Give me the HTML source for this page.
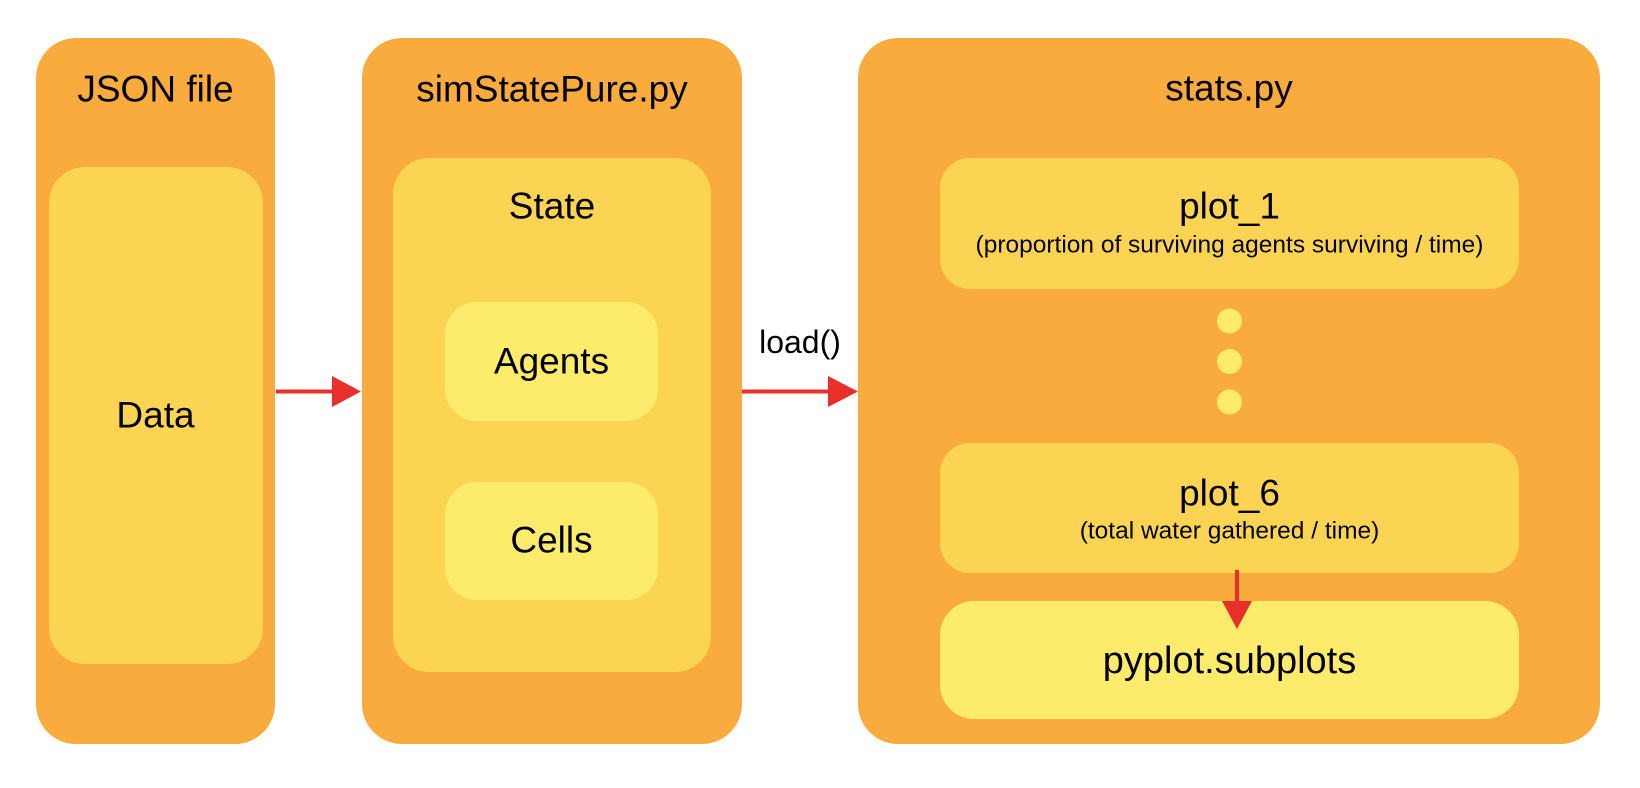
<!DOCTYPE html>
<html><head><meta charset="utf-8"><style>html,body{margin:0;padding:0;background:#fff}svg{display:block}</style></head>
<body>
<svg width="1640" height="788" viewBox="0 0 1640 788" xmlns="http://www.w3.org/2000/svg" font-family="'Liberation Sans', Arial, sans-serif" fill="#000">
<!-- outer boxes -->
<rect x="36" y="38" width="239" height="706" rx="40" fill="#F9AC3D"/>
<rect x="362" y="38" width="380" height="706" rx="40" fill="#F9AC3D"/>
<rect x="858" y="38" width="742" height="706" rx="40" fill="#F9AC3D"/>
<!-- mid boxes -->
<rect x="49" y="167" width="214" height="497" rx="36" fill="#FCD453"/>
<rect x="393" y="158" width="318" height="514" rx="36" fill="#FCD453"/>
<rect x="940" y="158" width="579" height="131" rx="30" fill="#FCD453"/>
<rect x="940" y="443" width="579" height="130" rx="30" fill="#FCD453"/>
<!-- inner boxes -->
<rect x="445" y="302" width="213" height="119" rx="32" fill="#FDEC6B"/>
<rect x="445" y="482" width="213" height="118" rx="32" fill="#FDEC6B"/>
<rect x="940" y="601" width="579" height="118" rx="34" fill="#FDEC6B"/>
<!-- dots -->
<circle cx="1229.5" cy="321" r="12.5" fill="#FDEC6B"/>
<circle cx="1229.5" cy="361.5" r="12.5" fill="#FDEC6B"/>
<circle cx="1229.5" cy="402" r="12.5" fill="#FDEC6B"/>
<!-- arrows -->
<line x1="276" y1="391.5" x2="334" y2="391.5" stroke="#E8302A" stroke-width="4"/>
<polygon points="332,376 361,391.5 332,407" fill="#E8302A"/>
<line x1="742" y1="391.5" x2="830" y2="391.5" stroke="#E8302A" stroke-width="4"/>
<polygon points="828,376 858,391.5 828,407" fill="#E8302A"/>
<line x1="1237" y1="570" x2="1237" y2="603" stroke="#E8302A" stroke-width="4"/>
<polygon points="1222,601 1252,601 1237,629" fill="#E8302A"/>
<!-- text -->
<g text-anchor="middle" dominant-baseline="central" font-size="37">
<text x="155.5" y="89">JSON file</text>
<text x="552" y="89">simStatePure.py</text>
<text x="1229" y="88">stats.py</text>
<text x="155.5" y="415">Data</text>
<text x="552" y="206">State</text>
<text x="551.5" y="361">Agents</text>
<text x="551.5" y="540">Cells</text>
<text x="1229.5" y="206">plot_1</text>
<text x="1229.5" y="493">plot_6</text>
<text x="1229.5" y="661" font-size="38">pyplot.subplots</text>
<text x="1229.5" y="245" font-size="24.5">(proportion of surviving agents surviving / time)</text>
<text x="1229.5" y="531" font-size="24.5">(total water gathered / time)</text>
<text x="800" y="342" font-size="32">load()</text>
</g>
</svg>
</body></html>
